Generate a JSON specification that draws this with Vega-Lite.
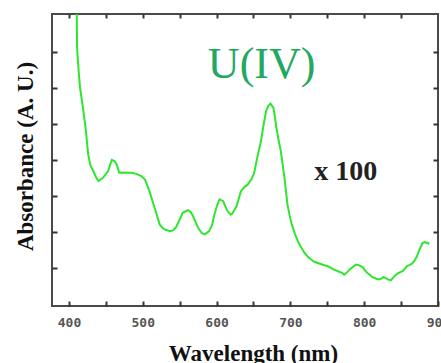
{
  "$schema": "https://vega.github.io/schema/vega-lite/v6.json",
  "width": 386,
  "height": 292,
  "autosize": "none",
  "padding": {"left": 52, "top": 14, "right": 3, "bottom": 57},
  "background": "white",
  "config": {
    "view": {"stroke": "#4a4a4a", "strokeWidth": 2},
    "axis": {
      "domain": false,
      "grid": false,
      "tickColor": "#333",
      "tickWidth": 2,
      "labelFont": "DejaVu Sans Mono",
      "labelFontWeight": "bold",
      "labelFontSize": 13,
      "labelColor": "#555",
      "titleFont": "Liberation Serif",
      "titleFontWeight": "bold",
      "titleColor": "#111"
    }
  },
  "datasets": {
    "spectrum": [
      {"wl": 409.5, "abs": 9.0}, {"wl": 410.5, "abs": 8.1}, {"wl": 411, "abs": 7.1}, {"wl": 413, "abs": 6.5},
      {"wl": 415, "abs": 6.0}, {"wl": 419, "abs": 5.44}, {"wl": 423, "abs": 4.8}, {"wl": 426, "abs": 4.15},
      {"wl": 429, "abs": 3.85}, {"wl": 433, "abs": 3.69}, {"wl": 437, "abs": 3.5}, {"wl": 440, "abs": 3.41},
      {"wl": 446, "abs": 3.5}, {"wl": 453, "abs": 3.69}, {"wl": 458, "abs": 4.0}, {"wl": 462, "abs": 3.96},
      {"wl": 465, "abs": 3.85}, {"wl": 468, "abs": 3.64}, {"wl": 473, "abs": 3.65}, {"wl": 478, "abs": 3.64},
      {"wl": 485, "abs": 3.64}, {"wl": 491, "abs": 3.61}, {"wl": 498, "abs": 3.55}, {"wl": 503, "abs": 3.45},
      {"wl": 509, "abs": 3.13}, {"wl": 516, "abs": 2.67}, {"wl": 523, "abs": 2.2}, {"wl": 528, "abs": 2.09},
      {"wl": 532, "abs": 2.05}, {"wl": 537, "abs": 2.02}, {"wl": 541, "abs": 2.04}, {"wl": 545, "abs": 2.13},
      {"wl": 548, "abs": 2.25}, {"wl": 554, "abs": 2.53}, {"wl": 561, "abs": 2.6}, {"wl": 565, "abs": 2.55},
      {"wl": 568, "abs": 2.44}, {"wl": 575, "abs": 2.11}, {"wl": 580, "abs": 1.96}, {"wl": 584, "abs": 1.93},
      {"wl": 590, "abs": 2.02}, {"wl": 594, "abs": 2.2}, {"wl": 597, "abs": 2.48}, {"wl": 601, "abs": 2.75},
      {"wl": 604, "abs": 2.9}, {"wl": 609, "abs": 2.85}, {"wl": 612, "abs": 2.7}, {"wl": 615, "abs": 2.57},
      {"wl": 619, "abs": 2.48}, {"wl": 621, "abs": 2.5}, {"wl": 624, "abs": 2.6}, {"wl": 627, "abs": 2.71},
      {"wl": 633, "abs": 3.13}, {"wl": 638, "abs": 3.25}, {"wl": 642, "abs": 3.31}, {"wl": 647, "abs": 3.45},
      {"wl": 651, "abs": 3.64}, {"wl": 656, "abs": 4.15}, {"wl": 660, "abs": 4.5}, {"wl": 663, "abs": 4.89},
      {"wl": 667, "abs": 5.35}, {"wl": 670, "abs": 5.5}, {"wl": 673, "abs": 5.56}, {"wl": 677, "abs": 5.44},
      {"wl": 679, "abs": 5.2}, {"wl": 681, "abs": 4.89}, {"wl": 684, "abs": 4.55}, {"wl": 687, "abs": 4.24},
      {"wl": 692, "abs": 3.5}, {"wl": 696, "abs": 2.76}, {"wl": 699, "abs": 2.45}, {"wl": 702, "abs": 2.2},
      {"wl": 706, "abs": 1.95}, {"wl": 710, "abs": 1.74}, {"wl": 715, "abs": 1.55}, {"wl": 719, "abs": 1.42},
      {"wl": 724, "abs": 1.3}, {"wl": 728, "abs": 1.23}, {"wl": 733, "abs": 1.16}, {"wl": 739, "abs": 1.12},
      {"wl": 745, "abs": 1.08}, {"wl": 750, "abs": 1.05}, {"wl": 755, "abs": 1.0}, {"wl": 759, "abs": 0.95},
      {"wl": 763, "abs": 0.92}, {"wl": 766, "abs": 0.89}, {"wl": 770, "abs": 0.86}, {"wl": 773, "abs": 0.81},
      {"wl": 777, "abs": 0.88}, {"wl": 780, "abs": 0.95}, {"wl": 785, "abs": 1.03}, {"wl": 789, "abs": 1.09},
      {"wl": 792, "abs": 1.08}, {"wl": 795, "abs": 1.05}, {"wl": 798, "abs": 1.02}, {"wl": 801, "abs": 0.93},
      {"wl": 804, "abs": 0.86}, {"wl": 808, "abs": 0.8}, {"wl": 811, "abs": 0.74}, {"wl": 814, "abs": 0.72},
      {"wl": 817, "abs": 0.69}, {"wl": 820, "abs": 0.68}, {"wl": 823, "abs": 0.7}, {"wl": 826, "abs": 0.74},
      {"wl": 829, "abs": 0.72}, {"wl": 832, "abs": 0.68}, {"wl": 836, "abs": 0.65}, {"wl": 839, "abs": 0.72},
      {"wl": 843, "abs": 0.81}, {"wl": 846, "abs": 0.85}, {"wl": 849, "abs": 0.88}, {"wl": 852, "abs": 0.91},
      {"wl": 855, "abs": 0.97}, {"wl": 858, "abs": 1.05}, {"wl": 862, "abs": 1.08}, {"wl": 865, "abs": 1.12},
      {"wl": 868, "abs": 1.19}, {"wl": 871, "abs": 1.3}, {"wl": 874, "abs": 1.46}, {"wl": 877, "abs": 1.6},
      {"wl": 879, "abs": 1.69}, {"wl": 882, "abs": 1.72}, {"wl": 884, "abs": 1.69}, {"wl": 886, "abs": 1.7},
      {"wl": 888, "abs": 1.65}
    ],
    "label1": [{"wl": 661, "abs": 6.28, "txt": "U(IV)"}],
    "label2": [{"wl": 775, "abs": 3.44, "txt": "x 100"}]
  },
  "layer": [
    {
      "data": {"name": "spectrum"},
      "mark": {"type": "line", "color": "#2ee62e", "strokeWidth": 2, "clip": true},
      "encoding": {
        "x": {
          "field": "wl", "type": "quantitative",
          "scale": {"domain": [377, 900], "nice": false, "zero": false},
          "axis": {
            "orient": "bottom",
            "values": [400, 450, 500, 550, 600, 650, 700, 750, 800, 850, 900],
            "labelExpr": "datum.value % 100 === 0 ? datum.label : ''",
            "tickSize": -5,
            "labelPadding": 15,
            "labelFlush": false,
            "labelOverlap": false,
            "title": "Wavelength (nm)",
            "titleFontSize": 23,
            "titleX": 201,
            "titleY": 54,
            "titleBaseline": "alphabetic",
            "titleAnchor": null
          }
        },
        "y": {
          "field": "abs", "type": "quantitative",
          "scale": {"domain": [-0.06, 8.05], "nice": false, "zero": false},
          "axis": {
            "orient": "left",
            "values": [1, 2, 3, 4, 5, 6, 7],
            "labels": false,
            "tickSize": -5,
            "title": "Absorbance (A. U.)",
            "titleFontSize": 23,
            "titleAngle": -90,
            "titleX": -27,
            "titleY": 142,
            "titleAlign": "center",
            "titleBaseline": "middle"
          }
        }
      }
    },
    {
      "data": {"name": "label1"},
      "mark": {"type": "text", "font": "Liberation Serif", "fontSize": 44, "color": "#22a862", "align": "center", "baseline": "alphabetic"},
      "encoding": {
        "x": {
          "field": "wl", "type": "quantitative",
          "axis": {"orient": "top", "values": [400, 450, 500, 550, 600, 650, 700, 750, 800, 850], "labels": false, "tickSize": -4, "title": null}
        },
        "y": {
          "field": "abs", "type": "quantitative",
          "axis": {"orient": "right", "values": [1, 2, 3, 4, 5, 6, 7], "labels": false, "tickSize": -5, "title": null}
        },
        "text": {"field": "txt"}
      }
    },
    {
      "data": {"name": "label2"},
      "mark": {"type": "text", "font": "Liberation Serif", "fontWeight": "bold", "fontSize": 28, "color": "#222", "align": "center", "baseline": "alphabetic"},
      "encoding": {
        "x": {"field": "wl", "type": "quantitative", "axis": null},
        "y": {"field": "abs", "type": "quantitative", "axis": null},
        "text": {"field": "txt"}
      }
    }
  ],
  "resolve": {"axis": {"x": "independent", "y": "independent"}}
}
